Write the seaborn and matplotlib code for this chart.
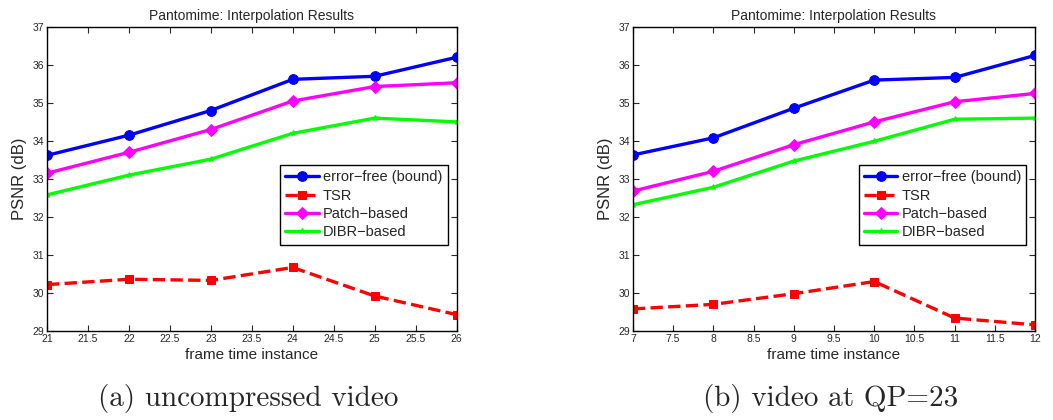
import matplotlib
matplotlib.use("Agg")
import matplotlib.pyplot as plt
import seaborn as sns
import numpy as np

# (a) uncompressed video
frames_a = [21, 22, 23, 24, 25, 26]
error_free_a = [33.62, 34.15, 34.80, 35.62, 35.70, 36.20]
tsr_a = [30.22, 30.36, 30.33, 30.67, 29.92, 29.43]
patch_a = [33.15, 33.70, 34.30, 35.05, 35.43, 35.53]
dibr_a = [32.58, 33.10, 33.52, 34.20, 34.60, 34.50]

# (b) video at QP=23
frames_b = [7, 8, 9, 10, 11, 12]
error_free_b = [33.63, 34.08, 34.86, 35.60, 35.67, 36.25]
tsr_b = [29.58, 29.70, 29.98, 30.30, 29.34, 29.16]
patch_b = [32.68, 33.20, 33.90, 34.50, 35.03, 35.25]
dibr_b = [32.32, 32.78, 33.47, 33.99, 34.57, 34.60]

labels = ["error\u2212free (bound)", "TSR", "Patch\u2212based", "DIBR\u2212based"]
captions = ["(a) uncompressed video", "(b) video at QP=23"]

sns.set_style("ticks")
plt.rcParams['font.family'] = ['Liberation Sans', 'DejaVu Sans']

styles = [
    dict(color="#0000ff", marker="o", markersize=7, linestyle="-"),
    dict(color="#ff0000", marker="s", markersize=6, linestyle="--"),
    dict(color="#ff00ff", marker="D", markersize=6, linestyle="-"),
    dict(color="#00ff00", marker="*", markersize=4, linestyle="-"),
]


def draw_panel(ax, frames, series, caption):
    for vals, lab, st in zip(series, labels, styles):
        sns.lineplot(x=frames, y=vals, ax=ax, label=lab, color=st["color"],
                     marker=st["marker"], markersize=st["markersize"],
                     linestyle=st["linestyle"], linewidth=2.4,
                     markeredgecolor=st["color"], markerfacecolor=st["color"])
    ax.set_xlim(frames[0], frames[-1])
    ax.set_ylim(29, 37)
    xt = np.arange(frames[0], frames[-1] + 0.01, 0.5)
    ax.set_xticks(xt)
    ax.set_xticklabels([f"{v:g}" for v in xt])
    ax.set_yticks(range(29, 38))
    ax.tick_params(direction="in", top=True, right=True, labelsize=7.5,
                   length=4, width=0.8, pad=2)
    for sp in ax.spines.values():
        sp.set_linewidth(1.0)
        sp.set_color("black")
    ax.set_title("Pantomime: Interpolation Results", fontsize=10, pad=5)
    ax.set_xlabel("frame time instance", fontsize=11, labelpad=3)
    ax.set_ylabel("PSNR (dB)", fontsize=12, labelpad=4)
    leg = ax.legend(loc="upper right", bbox_to_anchor=(0.978, 0.545),
                    fontsize=10.5, frameon=True, fancybox=False,
                    edgecolor="black", framealpha=1, borderpad=0.35,
                    labelspacing=0.3, handlelength=2.3, handletextpad=0.3,
                    borderaxespad=0)
    leg.get_frame().set_linewidth(1.0)
    bb = ax.get_position()
    ax.figure.text(bb.x0 + bb.width / 2 - 0.003, 0.052, caption,
                   ha="center", va="center", fontsize=21, family="cmr10")


fig = plt.figure(figsize=(10.53, 4.2), dpi=100)
ax1 = fig.add_axes([0.0446, 0.212, 0.389, 0.724])
ax2 = fig.add_axes([0.601, 0.212, 0.382, 0.724])

draw_panel(ax1, frames_a, [error_free_a, tsr_a, patch_a, dibr_a], captions[0])
draw_panel(ax2, frames_b, [error_free_b, tsr_b, patch_b, dibr_b], captions[1])

fig.savefig("out.png", dpi=100)
